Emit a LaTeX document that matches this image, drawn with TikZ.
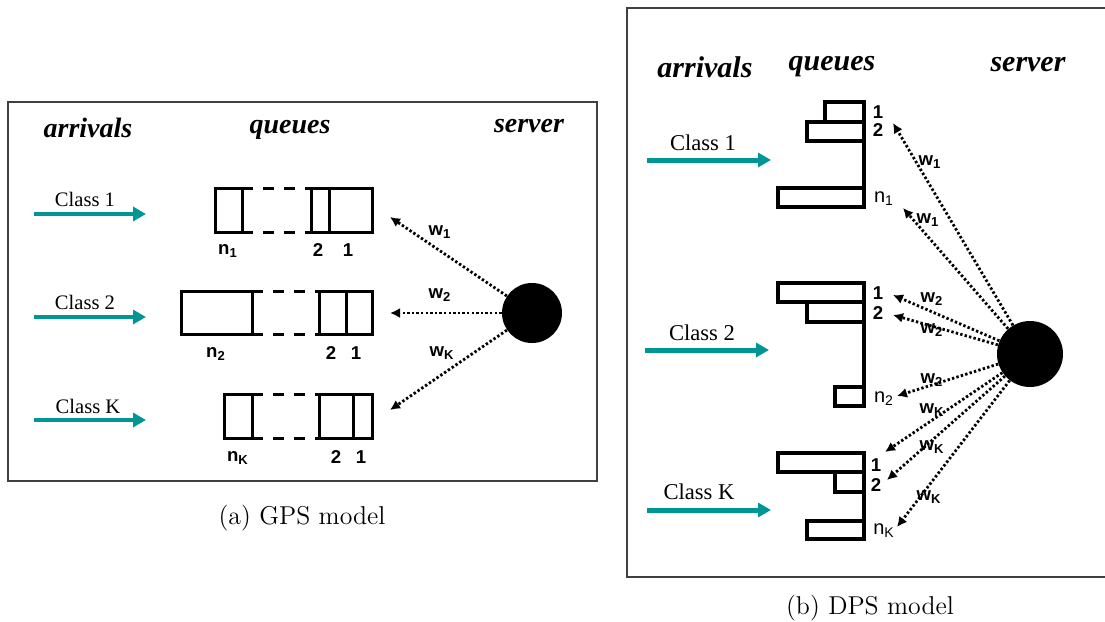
\documentclass[tikz,border=0pt]{standalone}
\usepackage{fontspec}
\newfontfamily\timesrm{Liberation Serif}
\newfontfamily\arialsf{Liberation Sans}
\usepackage{tikz}
\usetikzlibrary{arrows.meta}
\definecolor{arrteal}{RGB}{0,150,150}

\begin{document}
\begin{tikzpicture}[x=0.5pt,y=-0.5pt,
  head/.style={font=\timesrm\bfseries\itshape\fontsize{14}{16}\selectfont},
  cls/.style={font=\timesrm\fontsize{10.3}{12}\selectfont},
  num/.style={font=\arialsf\bfseries\fontsize{9.3}{10}\selectfont, inner sep=0pt},
  cell/.style={draw, line width=1.5pt},
  gap/.style={line width=1.5pt, dash pattern=on 5.5pt off 5pt},
  inflow/.style={arrteal, line width=2pt, -{Triangle[length=6.5pt,width=7pt]}},
  share/.style={line width=1.4pt, dash pattern=on 1.2pt off 1.1pt, -{Latex[length=5pt,width=5pt]}},
  srv/.style={circle, fill=black, inner sep=0pt},
  capt/.style={font=\fontsize{12.9}{15}\selectfont}]
\useasboundingbox (0,0) rectangle (1105,622);

% (a) GPS model
\draw[black!75, line width=1pt] (8,102) rectangle (597,481);
\node[head] (arrA) at (88,128) {arrivals};
\node[head] (queA) at (290,130) {queues};
\node[head] (serA) at (529,126) {server};

\coordinate (a1s) at (34,214); \coordinate (a1e) at (146,214);
\coordinate (a2s) at (34,317); \coordinate (a2e) at (146,317);
\coordinate (aKs) at (34,420); \coordinate (aKe) at (146,420);
\draw[inflow] (a1s) -- (a1e);
\draw[inflow] (a2s) -- (a2e);
\draw[inflow] (aKs) -- (aKe);
\node[cls] (c1A) at (85,199) {Class 1};
\node[cls] (c2A) at (85,302) {Class 2};
\node[cls] (cKA) at (88,406) {Class K};

% queue 1
\draw[cell] (215,188) rectangle (242,232);
\draw[gap] (242,188) -- (311,188) (242,232) -- (311,232);
\draw[cell] (311,188) rectangle (372,232) (329,188) -- (329,232);
\node[num] (q1n) at (228,251) {n\textsubscript{1}};
\node[num] (q12) at (318,250) {2};
\node[num] (q11) at (348,250) {1};
% queue 2
\draw[cell] (181,291) rectangle (252,334);
\draw[gap] (252,291) -- (319,291) (252,334) -- (319,334);
\draw[cell] (319,291) rectangle (372,334) (346,291) -- (346,334);
\node[num] (q2n) at (216,354) {n\textsubscript{2}};
\node[num] (q22) at (331,353) {2};
\node[num] (q21) at (356,353) {1};
% queue K
\draw[cell] (224,394) rectangle (252,438);
\draw[gap] (252,394) -- (319,394) (252,438) -- (319,438);
\draw[cell] (319,394) rectangle (372,438) (353,394) -- (353,438);
\node[num] (qKn) at (238,458) {n\textsubscript{K}};
\node[num] (qK2) at (336,457) {2};
\node[num] (qK1) at (361,457) {1};

\node[srv, minimum size=30pt] (srvA) at (532,313) {};
\coordinate (tA1) at (390,217);
\coordinate (tA2) at (390,313);
\coordinate (tAK) at (390,410);
\draw[share] (srvA) -- (tA1);
\draw[share] (srvA) -- (tA2);
\draw[share] (srvA) -- (tAK);
\node[num] (wA1) at (440,232) {w\textsubscript{1}};
\node[num] (wA2) at (440,295) {w\textsubscript{2}};
\node[num] (wAK) at (442,353) {w\textsubscript{K}};

\node[capt] (capA) at (302,518) {(a) GPS model};

% (b) DPS model
\draw[black!75, line width=1pt] (1110,8) -| (627,577) -- (1110,577);
\node[head, font=\timesrm\bfseries\itshape\fontsize{15}{17}\selectfont] (arrB) at (705,67) {arrivals};
\node[head, font=\timesrm\bfseries\itshape\fontsize{15}{17}\selectfont] (queB) at (832,67) {queues};
\node[head, font=\timesrm\bfseries\itshape\fontsize{15}{17}\selectfont] (serB) at (1028,65) {server};

\coordinate (b1s) at (647,160); \coordinate (b1e) at (771,160);
\coordinate (b2s) at (645,350); \coordinate (b2e) at (769,350);
\coordinate (bKs) at (647,510); \coordinate (bKe) at (771,510);
\draw[inflow, line width=2.5pt] (b1s) -- (b1e);
\draw[inflow, line width=2.5pt] (b2s) -- (b2e);
\draw[inflow, line width=2.5pt] (bKs) -- (bKe);
\node[cls, font=\timesrm\fontsize{11.3}{13}\selectfont] (c1B) at (703,143) {Class 1};
\node[cls, font=\timesrm\fontsize{11.3}{13}\selectfont] (c2B) at (702,333) {Class 2};
\node[cls, font=\timesrm\fontsize{11.3}{13}\selectfont] (cKB) at (699,492) {Class K};

% queue 1
\draw[cell, line width=1.6pt] (825,102) rectangle (864,122) (807,122) rectangle (864,141)
  (778,188) rectangle (864,207) (864,141) -- (864,188);
\node[num] (p11) at (878,112) {1};
\node[num] (p12) at (878,130) {2};
\node[num, font=\arialsf\fontsize{10}{11}\selectfont] (p1n) at (884,199) {n\textsubscript{1}};
% queue 2
\draw[cell, line width=1.6pt] (778,283) rectangle (864,302) (807,302) rectangle (864,322)
  (835,387) rectangle (864,406) (864,322) -- (864,387);
\node[num] (p21) at (878,293) {1};
\node[num] (p22) at (878,313) {2};
\node[num, font=\arialsf\fontsize{10}{11}\selectfont] (p2n) at (884,399) {n\textsubscript{2}};
% queue K
\draw[cell, line width=1.6pt] (778,453) rectangle (864,472) (835,472) rectangle (864,492)
  (807,521) rectangle (864,539) (864,492) -- (864,521);
\node[num] (pK1) at (876,465) {1};
\node[num] (pK2) at (876,485) {2};
\node[num, font=\arialsf\fontsize{10}{11}\selectfont] (pKn) at (884,531) {n\textsubscript{K}};

\node[srv, minimum size=33pt] (srvB) at (1030,354) {};
\coordinate (t11) at (893,123);
\coordinate (t1n) at (903,208);
\coordinate (t21) at (893,295);
\coordinate (t22) at (893,315);
\coordinate (t2n) at (897,396);
\coordinate (tK1) at (885,452);
\coordinate (tK2) at (887,480);
\coordinate (tKn) at (897,527);
\foreach \t in {t11,t1n,t21,t22,t2n,tK1,tK2,tKn}
  \draw[share] (srvB) -- (\t);
\node[num] (w11) at (930,162) {w\textsubscript{1}};
\node[num] (w1n) at (928,220) {w\textsubscript{1}};
\node[num] (w21) at (932,299) {w\textsubscript{2}};
\node[num] (w22) at (932,330) {w\textsubscript{2}};
\node[num] (w2n) at (932,380) {w\textsubscript{2}};
\node[num] (wK1) at (932,410) {w\textsubscript{K}};
\node[num] (wK2) at (932,447) {w\textsubscript{K}};
\node[num] (wKn) at (929,497) {w\textsubscript{K}};

\node[capt] (capB) at (870,608) {(b) DPS model};
\end{tikzpicture}
\end{document}
